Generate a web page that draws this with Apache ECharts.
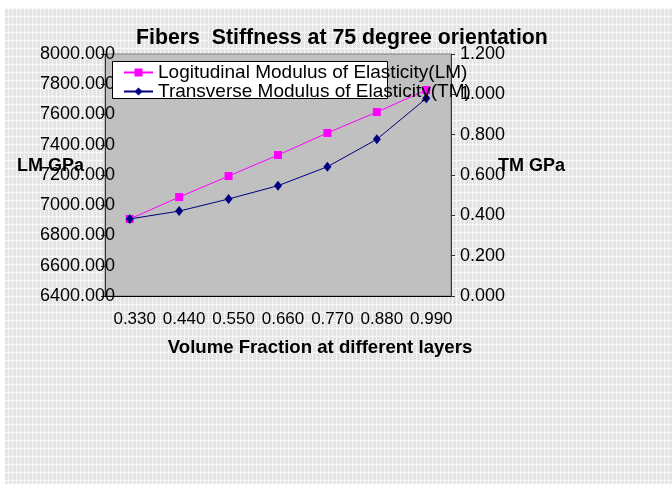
<!DOCTYPE html>
<html>
<head>
<meta charset="utf-8">
<script src="https://cdn.jsdelivr.net/npm/echarts@6/dist/echarts.min.js"></script>
<style>
  html, body { margin: 0; padding: 0; background: #fff; }
  #main { width: 672px; height: 484px; }
</style>
</head>
<body>
<div id="main"></div>
<script>
var categories = ['0.330', '0.440', '0.550', '0.660', '0.770', '0.880', '0.990'];
var lmValues = [6909, 7054, 7193, 7332, 7478, 7616, 7762];
var tmValues = [0.382, 0.421, 0.481, 0.547, 0.641, 0.777, 0.980];
var lmTicks = [6400, 8000, 200];
var tmTicks = [0, 1.2, 0.2];

// small tile for the textured sheet behind the chart
function makeTile() {
    var c = document.createElement('canvas');
    c.width = 8; c.height = 8;
    var g = c.getContext('2d');
    g.fillStyle = '#dcdcdc';
    g.fillRect(0, 0, 8, 8);
    g.fillStyle = '#ececec';
    for (var y = 0; y < 8; y++) {
        for (var x = 0; x < 8; x++) {
            if ((x + y) % 2 == 0) g.fillRect(x, y, 1, 1);
        }
    }
    g.fillStyle = '#f6f6f6';
    g.fillRect(0, 0, 8, 1);
    g.fillRect(0, 0, 1, 8);
    g.fillRect(4, 0, 1, 8);
    return c;
}

var font = 'Liberation Sans, Arial, sans-serif';
var myChart = echarts.init(document.getElementById('main'));
myChart.setOption({
    backgroundColor: '#ffffff',
    animation: false,
    title: {
        text: 'Fibers  Stiffness at 75 degree orientation',
        left: 136,
        top: 28,
        padding: 0,
        textStyle: { fontFamily: font, fontSize: 21.3, fontWeight: 'bold', color: '#000' }
    },
    graphic: [
        {
            type: 'rect',
            z: -10,
            shape: { x: 5, y: 8, width: 667, height: 476 },
            style: { fill: { image: makeTile(), repeat: 'repeat' } }
        },
        {
            type: 'rect',
            z: 3,
            shape: { x: 112.5, y: 61.5, width: 275, height: 37 },
            style: { fill: '#ffffff', stroke: '#000000', lineWidth: 1 }
        }
    ],
    legend: {
        orient: 'vertical',
        left: 123,
        top: 63,
        padding: 0,
        itemGap: 0,
        itemWidth: 29,
        itemHeight: 10,
        z: 4,
        textStyle: { fontFamily: font, fontSize: 19, color: '#000', lineHeight: 18 },
        data: ['Logitudinal Modulus of Elasticity(LM)', 'Transverse Modulus of Elasticity(TM)']
    },
    grid: {
        left: 105,
        top: 54,
        right: 221,
        bottom: 188,
        containLabel: false,
        outerBoundsMode: 'none',
        show: true,
        backgroundColor: '#c0c0c0',
        borderColor: '#808080',
        borderWidth: 1
    },
    xAxis: {
        type: 'category',
        data: categories,
        boundaryGap: true,
        name: 'Volume Fraction at different layers',
        nameLocation: 'middle',
        nameGap: 52,
        nameMoveOverlap: false,
        nameTextStyle: {
            fontFamily: font, fontSize: 18.6, fontWeight: 'bold', color: '#000',
            verticalAlign: 'middle', padding: [0, 0, 0, 84]
        },
        axisLine: { lineStyle: { color: '#000', width: 1 } },
        axisTick: { length: 4, lineStyle: { color: '#000' } },
        axisLabel: {
            interval: 0,
            hideOverlap: false,
            fontFamily: font, fontSize: 17, color: '#000', margin: 15,
            padding: [0, 0, 0, 10]
        },
        splitLine: { show: false }
    },
    yAxis: [
        {
            type: 'value',
            min: lmTicks[0],
            max: lmTicks[1],
            interval: lmTicks[2],
            name: 'LM GPa',
            nameLocation: 'middle',
            nameGap: 21,
            nameRotate: 0,
            nameMoveOverlap: false,
            nameTextStyle: {
                fontFamily: font, fontSize: 18, fontWeight: 'bold', color: '#000',
                align: 'right', verticalAlign: 'bottom'
            },
            axisLine: { show: true, lineStyle: { color: '#333', width: 1 } },
            axisTick: { show: true, length: 4, lineStyle: { color: '#333' } },
            axisLabel: {
                fontFamily: font, fontSize: 18, color: '#000', margin: -10,
                formatter: function (v) { return v.toFixed(3); }
            },
            splitLine: { show: false }
        },
        {
            type: 'value',
            position: 'right',
            min: tmTicks[0],
            max: tmTicks[1],
            interval: tmTicks[2],
            name: 'TM GPa',
            nameLocation: 'middle',
            nameGap: 47,
            nameRotate: 0,
            nameMoveOverlap: false,
            nameTextStyle: {
                fontFamily: font, fontSize: 18, fontWeight: 'bold', color: '#000',
                align: 'left', verticalAlign: 'bottom'
            },
            axisLine: { show: true, lineStyle: { color: '#333', width: 1 } },
            axisTick: { show: true, length: 4, lineStyle: { color: '#333' } },
            axisLabel: {
                fontFamily: font, fontSize: 18, color: '#000', margin: 9,
                formatter: function (v) { return v.toFixed(3); }
            },
            splitLine: { show: false }
        }
    ],
    series: [
        {
            name: 'Logitudinal Modulus of Elasticity(LM)',
            type: 'line',
            yAxisIndex: 0,
            data: lmValues,
            symbol: 'rect',
            symbolSize: 8,
            itemStyle: { color: '#ff00ff' },
            lineStyle: { color: '#ff00ff', width: 1 }
        },
        {
            name: 'Transverse Modulus of Elasticity(TM)',
            type: 'line',
            yAxisIndex: 1,
            data: tmValues,
            symbol: 'diamond',
            symbolSize: [8, 10],
            itemStyle: { color: '#000080' },
            lineStyle: { color: '#000080', width: 1 }
        }
    ]
});
</script>
</body>
</html>
